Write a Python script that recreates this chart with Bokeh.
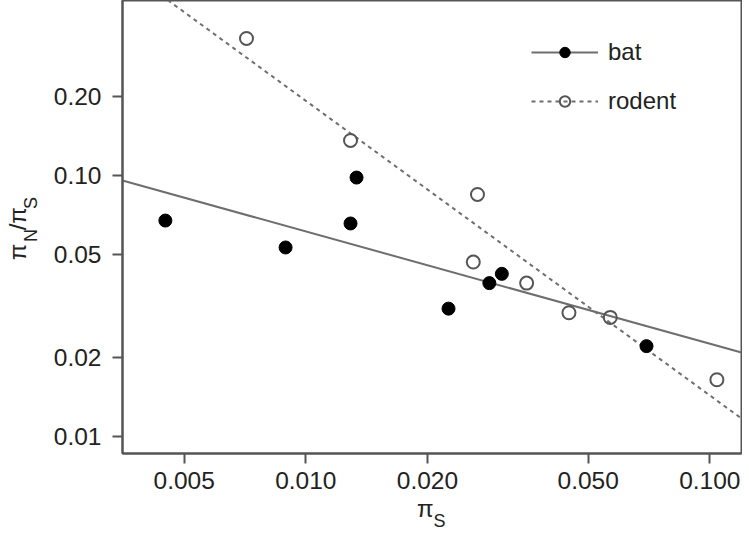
import numpy as np
from bokeh.plotting import figure
from bokeh.models import FixedTicker, Legend, LegendItem, Range1d, LogAxis
from bokeh.embed import file_html
from bokeh.resources import INLINE

# ---- data ----
bat_pi_s = [0.00449, 0.00891, 0.01290, 0.01335, 0.02255, 0.02846, 0.03056, 0.0697]
bat_ratio = [0.0672, 0.0530, 0.0655, 0.0982, 0.0309, 0.0387, 0.0420, 0.0222]

rodent_pi_s = [0.00713, 0.0129, 0.0266, 0.02597, 0.0352, 0.0448, 0.0567, 0.1041]
rodent_ratio = [0.335, 0.1362, 0.0846, 0.0466, 0.0387, 0.0298, 0.0286, 0.0165]

# log10(y) = slope * log10(x) + intercept
bat_fit = (-0.430, -2.0743)
rodent_fit = (-1.1285, -2.9709)

x_ticks = [0.005, 0.010, 0.020, 0.050, 0.100]
x_tick_labels = ["0.005", "0.010", "0.020", "0.050", "0.100"]
y_ticks = [0.01, 0.02, 0.05, 0.10, 0.20]
y_tick_labels = ["0.01", "0.02", "0.05", "0.10", "0.20"]

x_lim = (0.003517, 0.11978)
y_lim = (0.00861, 0.4682)

series_names = ["bat", "rodent"]

FONT = "Liberation Sans"
TXT = "#222222"
AX = "#555555"
NB = "\u00a0"
PI = "\u03c0"

p = figure(x_axis_type="log", y_axis_type="log",
           x_range=Range1d(*x_lim), y_range=Range1d(*y_lim),
           frame_width=619, frame_height=453,
           min_border_left=121, min_border_right=1,
           min_border_top=0, min_border_bottom=77,
           output_backend="svg", toolbar_location=None)

p.background_fill_color = "white"
p.border_fill_color = "white"
p.outline_line_color = AX
p.outline_line_width = 2
p.xgrid.visible = False
p.ygrid.visible = False

for ax, ticks, labels in ((p.xaxis[0], x_ticks, x_tick_labels),
                          (p.yaxis[0], y_ticks, y_tick_labels)):
    ax.ticker = FixedTicker(ticks=ticks, minor_ticks=[])
    ax.major_label_overrides = {t: l for t, l in zip(ticks, labels)}
    ax.axis_line_color = AX
    ax.axis_line_width = 2
    ax.major_tick_line_color = AX
    ax.major_tick_line_width = 2
    ax.major_tick_in = 0
    ax.major_tick_out = 10
    ax.minor_tick_line_color = None
    ax.major_label_text_font = FONT
    ax.major_label_text_font_size = "24.5px"
    ax.major_label_text_color = TXT
    ax.axis_label_text_font = FONT
    ax.axis_label_text_font_style = "normal"
    ax.axis_label_text_color = TXT
p.yaxis[0].major_label_standoff = 11
p.xaxis[0].major_label_standoff = 8

# x title: pi (main axis) + subscript S (extra axis)
p.xaxis[0].axis_label = PI + NB * 2
p.xaxis[0].axis_label_text_font_size = "24px"
p.xaxis[0].axis_label_standoff = 3

# y title: subscripts on inner axis, main glyphs on outer axis
p.yaxis[0].axis_label = NB * 3 + "N" + NB * 4 + "S"
p.yaxis[0].axis_label_text_font_size = "18px"
p.yaxis[0].axis_label_standoff = 10


def title_axis(label, size, standoff):
    a = LogAxis(ticker=FixedTicker(ticks=[], minor_ticks=[]),
                axis_label=label, axis_label_standoff=standoff,
                axis_label_text_font=FONT, axis_label_text_font_size=size,
                axis_label_text_font_style="normal", axis_label_text_color=TXT,
                axis_line_color=None, major_tick_line_color=None,
                minor_tick_line_color=None, major_tick_out=0, major_tick_in=0,
                minor_tick_out=0, minor_tick_in=0, major_label_standoff=0)
    return a


p.add_layout(title_axis(NB * 3 + "S", "18px", -14), "below")
p.add_layout(title_axis(PI + NB * 2 + "/" + PI + NB * 2, "24px", -13), "left")

# regression lines across the whole x range
xs = np.array(x_lim)
bat_line = p.line(xs, 10 ** (bat_fit[1] + bat_fit[0] * np.log10(xs)),
                  line_color="#6e6e6e", line_width=2)
rod_line = p.line(xs, 10 ** (rodent_fit[1] + rodent_fit[0] * np.log10(xs)),
                  line_color="#6e6e6e", line_width=2, line_dash="4 4")

bat_pts = p.scatter(bat_pi_s, bat_ratio, size=13, fill_color="black",
                    line_color="black", line_width=1)
rod_pts = p.scatter(rodent_pi_s, rodent_ratio, size=13, fill_alpha=0,
                    line_color="#555555", line_width=2)

legend = Legend(items=[LegendItem(label=series_names[0], renderers=[bat_line, bat_pts]),
                       LegendItem(label=series_names[1], renderers=[rod_line, rod_pts])],
                location=(409, 338), margin=0, padding=0,
                glyph_width=67, glyph_height=26, label_height=26,
                label_standoff=10, spacing=21,
                border_line_alpha=0, background_fill_alpha=0,
                label_text_font=FONT, label_text_font_size="24px",
                label_text_color=TXT)
p.add_layout(legend, "center")

open("out.html", "w").write(file_html(p, INLINE))
